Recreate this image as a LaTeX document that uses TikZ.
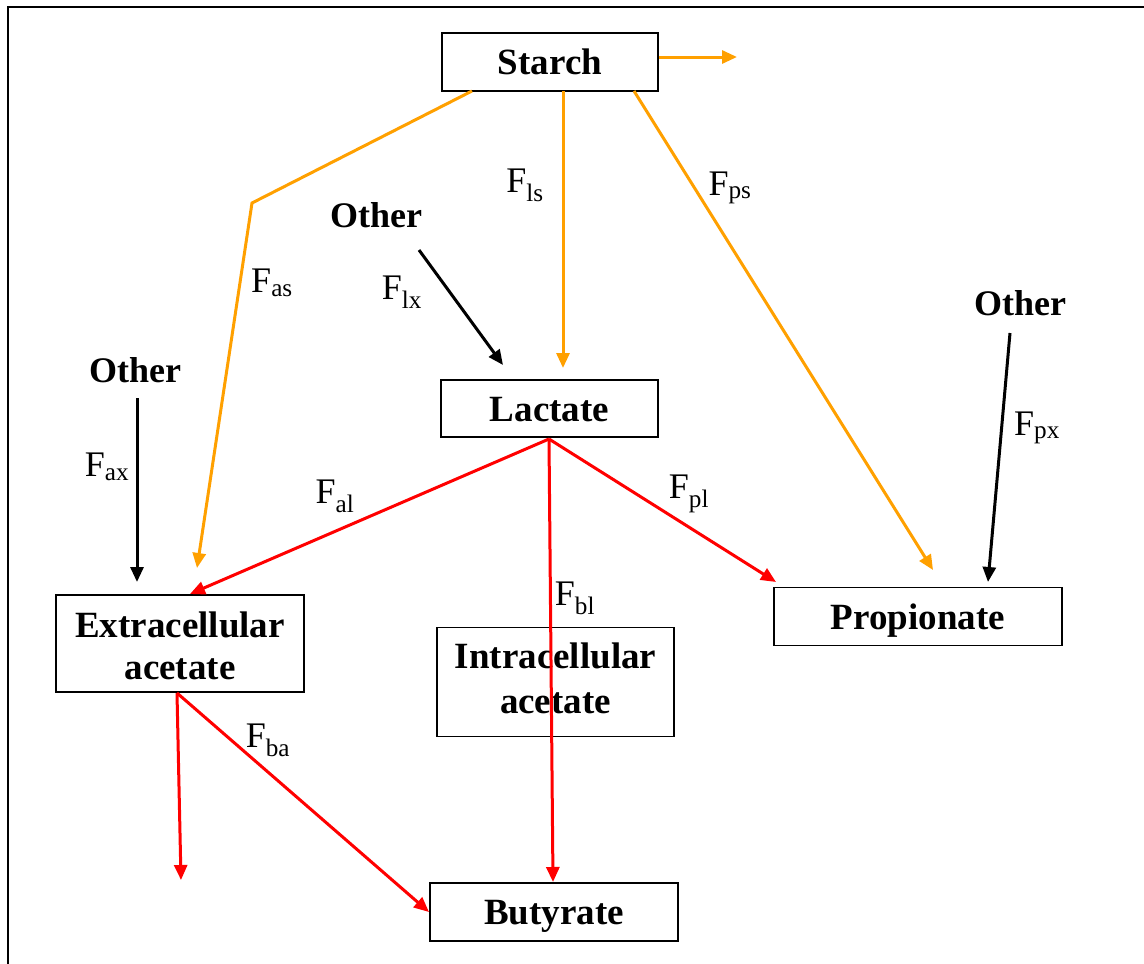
\documentclass[tikz,border=0pt]{standalone}
\usepackage{fontspec}
\setmainfont{Liberation Serif}
\usetikzlibrary{arrows.meta}
\begin{document}
\begin{tikzpicture}[x=1pt,y=-1pt,
  box/.style={draw,line width=1.4pt,minimum height=#1,align=center,inner sep=0pt,font=\fontsize{37}{42}\selectfont\bfseries},
  onebox/.style={box=#1,text height=25pt,text depth=0pt},
  other/.style={font=\fontsize{36}{40}\selectfont\bfseries,inner sep=0pt},
  flab/.style={font=\fontsize{36}{40}\selectfont,inner sep=0pt},
  orange arrow/.style={draw={rgb,255:red,255;green,160;blue,0},line width=3pt,-{Triangle[length=15pt,width=13pt]}},
  red arrow/.style={draw={rgb,255:red,255;green,0;blue,0},line width=3pt,-{Triangle[length=15pt,width=13pt]}},
  black arrow/.style={draw=black,line width=3pt,-{Triangle[length=15pt,width=13pt]}}]
\useasboundingbox (0,0) rectangle (1144,964);
\draw[line width=1.5pt] (8,970) -- (8,7) -- (1150,7);

% boxes
\node[onebox=58pt,minimum width=216pt] (starch) at (550,62) {Starch};
\node[onebox=57pt,minimum width=217pt] (lactate) at (549.5,408.5) {Lactate};
\node[box=97pt,minimum width=248pt] (extra) at (180,643.5)
  {\raisebox{-7pt}[\height][\depth]{\begin{tabular}{@{}c@{}}Extracellular\\acetate\end{tabular}}};
\node[box=109pt,minimum width=237pt,font=\fontsize{37}{45}\selectfont\bfseries] (intra) at (555.5,682)
  {\begin{tabular}{@{}c@{}}Intracellular\\acetate\end{tabular}};
\node[onebox=58pt,minimum width=288pt] (prop) at (918,616.5) {Propionate};
\node[onebox=58pt,minimum width=248pt] (buty) at (554,912) {Butyrate};

% Other labels
\node[other] (o1) at (135,370) {Other};
\node[other] (o2) at (376,215) {Other};
\node[other] (o3) at (1020,303) {Other};

% coordinates
\coordinate (sOut) at (737,57);
\coordinate (bend) at (252,203);
\coordinate (eOut) at (181,880);

% orange arrows
\draw[orange arrow] (starch.east |- 0,57) -- (sOut);
\draw[orange arrow, line join=miter] (472,91) -- (bend) -- (197,568);
\draw[orange arrow] (563,91) -- (563,368);
\draw[orange arrow] (634,91) -- (933,570);

% black arrows
\draw[black arrow] (419,250) -- (503,365);
\draw[black arrow] (137,398) -- (137,582);
\draw[black arrow] (1010,333) -- (988,582);

% red arrows
\draw[red arrow] (549,439) -- (190,594);
\draw[red arrow] (549,439) -- (776,582);
\draw[red arrow] (549,439) -- (553,882);
\draw[red arrow] (177,693) -- (eOut);
\draw[red arrow] (177,693) -- (429,912);

% flux labels
\node[flab] (fls) at (525,185) {F\textsubscript{ls}};
\node[flab] (fps) at (730,188) {F\textsubscript{ps}};
\node[flab] (fas) at (272,283) {F\textsubscript{as}};
\node[flab] (flx) at (402,292) {F\textsubscript{lx}};
\node[flab] (fax) at (107,467) {F\textsubscript{ax}};
\node[flab] (fpx) at (1037,428) {F\textsubscript{px}};
\node[flab] (fal) at (335,496) {F\textsubscript{al}};
\node[flab] (fpl) at (689,494) {F\textsubscript{pl}};
\node[flab] (fbl) at (575,598) {F\textsubscript{bl}};
\node[flab] (fba) at (268,740) {F\textsubscript{ba}};
\end{tikzpicture}
\end{document}
